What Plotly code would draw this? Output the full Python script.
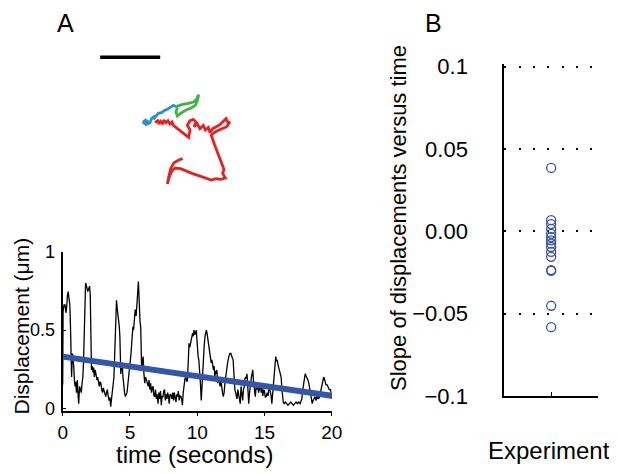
import plotly.graph_objects as go

# --- panel A (bottom): displacement of the particle over time ---
time_s = [0.00, 0.03, 0.10, 0.17, 0.24, 0.29, 0.35, 0.41, 0.47, 0.53, 0.58, 0.62, 0.66, 0.70, 0.73, 0.78,
          0.82, 0.87, 0.92, 0.97, 1.02, 1.06, 1.09, 1.14, 1.19, 1.23, 1.26, 1.32, 1.38, 1.44, 1.50, 1.55,
          1.60, 1.65, 1.70, 1.75, 1.80, 1.86, 1.92, 2.00, 2.05, 2.10, 2.14, 2.20, 2.25, 2.30, 2.35, 2.42,
          2.48, 2.55, 2.60, 2.66, 2.72, 2.78, 2.84, 2.90, 2.96, 3.02, 3.08, 3.14, 3.20, 3.26, 3.32, 3.38,
          3.45, 3.51, 3.57, 3.63, 3.70, 3.76, 3.81, 3.87, 3.93, 3.97, 4.00, 4.05, 4.10, 4.17, 4.21, 4.25,
          4.29, 4.32, 4.37, 4.42, 4.48, 4.54, 4.60, 4.66, 4.72, 4.78, 4.84, 4.90, 4.96, 5.02, 5.08, 5.15,
          5.22, 5.27, 5.32, 5.39, 5.46, 5.51, 5.56, 5.60, 5.63, 5.67, 5.70, 5.75, 5.80, 5.84, 5.87, 5.93,
          5.98, 6.04, 6.10, 6.16, 6.23, 6.30, 6.36, 6.42, 6.48, 6.54, 6.60, 6.66, 6.72, 6.78, 6.84, 6.90,
          6.96, 7.02, 7.09, 7.15, 7.21, 7.27, 7.33, 7.39, 7.45, 7.51, 7.57, 7.63, 7.69, 7.75, 7.80, 7.86,
          7.92, 7.98, 8.06, 8.12, 8.18, 8.24, 8.30, 8.36, 8.42, 8.48, 8.54, 8.60, 8.66, 8.72, 8.80, 8.86,
          8.90, 8.96, 9.03, 9.09, 9.15, 9.22, 9.28, 9.33, 9.39, 9.45, 9.51, 9.57, 9.66, 9.71, 9.76, 9.82,
          9.88, 9.93, 9.97, 10.00, 10.07, 10.12, 10.18, 10.24, 10.30, 10.35, 10.40, 10.46, 10.52, 10.58,
          10.63, 10.68, 10.73, 10.80, 10.87, 10.92, 10.97, 11.04, 11.09, 11.14, 11.21, 11.26, 11.31, 11.36,
          11.41, 11.46, 11.52, 11.58, 11.64, 11.70, 11.76, 11.82, 11.88, 11.94, 12.00, 12.06, 12.13, 12.20,
          12.26, 12.35, 12.43, 12.50, 12.56, 12.62, 12.67, 12.74, 12.80, 12.86, 12.90, 12.96, 13.02, 13.08,
          13.14, 13.20, 13.26, 13.32, 13.38, 13.44, 13.50, 13.55, 13.60, 13.65, 13.70, 13.76, 13.83, 13.88,
          13.93, 13.98, 14.03, 14.08, 14.13, 14.18, 14.24, 14.32, 14.38, 14.44, 14.50, 14.56, 14.62, 14.70,
          14.76, 14.82, 14.88, 14.94, 15.00, 15.06, 15.13, 15.20, 15.27, 15.35, 15.42, 15.48, 15.55, 15.62,
          15.70, 15.77, 15.84, 15.90, 15.95, 16.00, 16.05, 16.12, 16.18, 16.24, 16.30, 16.34, 16.40, 16.46,
          16.55, 16.65, 16.75, 16.85, 16.95, 17.05, 17.15, 17.25, 17.35, 17.45, 17.55, 17.65, 17.71, 17.78,
          17.85, 17.92, 17.98, 18.03, 18.08, 18.14, 18.19, 18.24, 18.30, 18.38, 18.45, 18.50, 18.55, 18.62,
          18.70, 18.76, 18.84, 18.92, 19.00, 19.08, 19.14, 19.20, 19.28, 19.34, 19.40, 19.45, 19.52, 19.58,
          19.66, 19.74, 19.82, 19.92, 20.00]
displacement_um = [0.15, 0.62, 0.66, 0.66, 0.61, 0.64, 0.72, 0.745, 0.70, 0.66, 0.52, 0.33, 0.20, 0.30, 0.35, 0.30,
                   0.27, 0.18, 0.14, 0.17, 0.10, 0.15, 0.18, 0.09, 0.03, 0.10, 0.14, 0.12, 0.10, 0.16, 0.20, 0.30,
                   0.55, 0.72, 0.80, 0.79, 0.77, 0.745, 0.76, 0.78, 0.72, 0.45, 0.245, 0.27, 0.23, 0.26, 0.20, 0.245,
                   0.21, 0.18, 0.20, 0.16, 0.14, 0.17, 0.16, 0.12, 0.10, 0.13, 0.11, 0.08, 0.075, 0.10, 0.12, 0.08,
                   0.05, 0.07, 0.01, 0.06, 0.10, 0.16, 0.20, 0.35, 0.50, 0.63, 0.69, 0.64, 0.60, 0.585, 0.52, 0.46,
                   0.30, 0.22, 0.26, 0.29, 0.20, 0.14, 0.10, 0.075, 0.09, 0.10, 0.15, 0.20, 0.24, 0.27, 0.35, 0.44,
                   0.52, 0.50, 0.56, 0.63, 0.59, 0.64, 0.71, 0.77, 0.81, 0.72, 0.60, 0.55, 0.52, 0.40, 0.245, 0.30,
                   0.33, 0.22, 0.16, 0.20, 0.18, 0.15, 0.14, 0.18, 0.12, 0.16, 0.10, 0.13, 0.14, 0.08, 0.075, 0.12,
                   0.06, 0.09, 0.03, 0.10, 0.06, 0.11, 0.02, 0.08, 0.07, 0.11, 0.12, 0.05, 0.09, 0.06, 0.10, 0.08,
                   0.03, 0.09, 0.085, 0.06, 0.10, 0.05, 0.10, 0.07, 0.04, 0.09, 0.075, 0.11, 0.05, 0.08, 0.075, 0.05,
                   0.02, 0.10, 0.16, 0.19, 0.20, 0.17, 0.18, 0.30, 0.415, 0.39, 0.42, 0.44, 0.48, 0.46, 0.50, 0.47,
                   0.48, 0.50, 0.45, 0.37, 0.33, 0.31, 0.25, 0.16, 0.05, 0.15, 0.245, 0.33, 0.40, 0.46,
                   0.49, 0.50, 0.48, 0.44, 0.37, 0.36, 0.33, 0.29, 0.31, 0.27, 0.245, 0.27, 0.20, 0.24,
                   0.22, 0.245, 0.16, 0.20, 0.17, 0.14, 0.18, 0.12, 0.10, 0.075, 0.10, 0.16, 0.22, 0.25,
                   0.29, 0.33, 0.35, 0.35, 0.34, 0.32, 0.31, 0.20, 0.12, 0.10, 0.075, 0.06, 0.12, 0.09,
                   0.06, 0.03, 0.14, 0.09, 0.05, 0.12, 0.14, 0.19, 0.20, 0.19, 0.22, 0.14, 0.03, 0.09,
                   0.14, 0.17, 0.20, 0.22, 0.245, 0.18, 0.12, 0.075, 0.14, 0.12, 0.16, 0.10, 0.12, 0.16,
                   0.10, 0.13, 0.08, 0.12, 0.11, 0.07, 0.075, 0.10, 0.08, 0.14, 0.11, 0.09, 0.03, 0.10,
                   0.20, 0.26, 0.33, 0.30, 0.31, 0.28, 0.26, 0.24, 0.22, 0.20, 0.12, 0.075, 0.04, 0.03,
                   0.04, 0.03, 0.02, 0.03, 0.04, 0.03, 0.02, 0.03, 0.04, 0.03, 0.04, 0.03, 0.04, 0.06,
                   0.12, 0.16, 0.20, 0.22, 0.21, 0.20, 0.19, 0.18, 0.16, 0.12, 0.10, 0.05, 0.03, 0.05,
                   0.06, 0.075, 0.05, 0.08, 0.06, 0.07, 0.09, 0.12, 0.15, 0.17, 0.20, 0.19, 0.17, 0.15,
                   0.15, 0.13, 0.12, 0.12, 0.06]

fit_time = [0, 20]
fit_disp = [0.33, 0.08]

# --- panel A (top): trajectory, in micrometres ---
blue_x = [0.889, 0.944, 0.878, 0.972, 0.917, 1.0, 1.028, 1.083, 1.056, 1.139, 1.194, 1.233, 1.289, 1.344, 1.389, 1.433]
blue_y = [1.306, 1.344, 1.278, 1.322, 1.25, 1.289, 1.361, 1.4, 1.344, 1.444, 1.456, 1.489, 1.511, 1.556, 1.578, 1.556]
green_x = [1.433, 1.528, 1.639, 1.722, 1.778, 1.811, 1.789, 1.756, 1.689, 1.6, 1.511, 1.456, 1.433, 1.456]
green_y = [1.556, 1.589, 1.611, 1.633, 1.678, 1.756, 1.656, 1.578, 1.533, 1.5, 1.444, 1.4, 1.467, 1.544]
red_x = [1.083, 1.128, 1.156, 1.178, 1.211, 1.233, 1.267, 1.3, 1.333, 1.367, 1.389, 1.456, 1.522, 1.589, 1.644,
         1.667, 1.622, 1.667, 1.722, 1.767, 1.733, 1.789, 1.833, 1.889, 1.922, 1.972, 2.0, 2.044, 2.1, 2.167,
         2.222, 2.267, 2.3, 2.333, 2.278, 2.2, 2.122, 2.056, 2.022, 2.078, 2.144, 2.2, 2.233, 2.211, 2.256,
         2.178, 2.1, 2.022, 1.944, 1.878, 1.8, 1.7, 1.611, 1.511, 1.422, 1.367, 1.322, 1.289, 1.311, 1.344,
         1.4, 1.478, 1.544]
red_y = [1.289, 1.322, 1.267, 1.311, 1.278, 1.333, 1.289, 1.322, 1.267, 1.3, 1.244, 1.189, 1.133, 1.078, 1.044,
         1.167, 1.25, 1.322, 1.344, 1.3, 1.222, 1.267, 1.189, 1.244, 1.167, 1.211, 1.122, 1.189, 1.222, 1.256,
         1.311, 1.356, 1.289, 1.3, 1.222, 1.189, 1.156, 1.111, 1.078, 0.917, 0.75, 0.6, 0.511, 0.444, 0.367,
         0.344, 0.356, 0.333, 0.356, 0.378, 0.411, 0.444, 0.478, 0.522, 0.533, 0.489, 0.389, 0.267, 0.378, 0.522,
         0.622, 0.667, 0.689]
scalebar_x = [0.17, 1.17]
scalebar_y = [2.38, 2.38]

# --- panel B: fitted slopes, one per experiment ---
slopes = [0.0385, 0.0068, 0.0044, 0.0015, -0.0015, -0.0035, -0.0055, -0.0075, -0.0095,
          -0.0125, -0.0155, -0.0235, -0.0240, -0.0452, -0.0582]
experiment_x = [1] * len(slopes)

# page has an 8px body margin, so lay out in window pixels and shift
OFF = 8
W, H = 617 - OFF, 474 - OFF
FONT = "Liberation Sans, Arial, sans-serif"


def fx(px):
    return (px - OFF) / W


def fy(py):
    return 1 - (py - OFF) / H


fig = go.Figure()
fig.add_trace(go.Scatter(x=time_s, y=displacement_um, mode="lines",
                         line=dict(color="black", width=1.3), xaxis="x", yaxis="y"))
fig.add_trace(go.Scatter(x=fit_time, y=fit_disp, mode="lines",
                         line=dict(color="#3456a8", width=6), xaxis="x", yaxis="y"))

for xs, ys, col in [(blue_x, blue_y, "#2b8ed6"), (green_x, green_y, "#3fb23f"), (red_x, red_y, "#e52222")]:
    fig.add_trace(go.Scatter(x=xs, y=ys, mode="lines", line=dict(color=col, width=2.8),
                             xaxis="x2", yaxis="y2"))
fig.add_trace(go.Scatter(x=scalebar_x, y=scalebar_y, mode="lines",
                         line=dict(color="black", width=3.5), xaxis="x2", yaxis="y2"))

fig.add_trace(go.Scatter(x=experiment_x, y=slopes, mode="markers",
                         marker=dict(symbol="circle-open", size=9, color="#3a50a8", line=dict(width=1.3)),
                         xaxis="x3", yaxis="y3"))

axis_common = dict(showline=True, linecolor="black", linewidth=2, zeroline=False, automargin=False,
                   tickcolor="black", tickfont=dict(family=FONT, color="black"))

# slope axis runs a hair past 0.1 so the top dotted grid line is still drawn
b_top = 0.1015
b_px_per_unit = (396 - 66.7) / 0.2

fig.update_layout(
    template="none",
    width=W, height=H,
    margin=dict(l=0, r=0, t=0, b=0, pad=0, autoexpand=False),
    paper_bgcolor="white", plot_bgcolor="white",
    showlegend=False,
    font=dict(family=FONT, color="black"),
    xaxis=dict(axis_common, domain=[fx(62.7), fx(331.7)], range=[0, 20], tickvals=[0, 5, 10, 15, 20],
               ticks="outside", ticklen=3, showgrid=False, anchor="y",
               tickfont=dict(family=FONT, size=19, color="black")),
    yaxis=dict(axis_common, domain=[fy(411), fy(251.7)], range=[-0.017, 1.0],
               tickvals=[0, 0.5, 1], ticktext=["0", "0.5", "1"], ticks="inside", ticklen=3,
               ticklabelstandoff=2,
               showgrid=False, anchor="x", tickfont=dict(family=FONT, size=18, color="black")),
    xaxis2=dict(domain=[fx(90), fx(250)], range=[0, 2.667], visible=False, anchor="y2"),
    yaxis2=dict(domain=[fy(200), fy(40)], range=[0, 2.667], visible=False, anchor="x2"),
    xaxis3=dict(axis_common, domain=[fx(504.3), fx(598)], range=[0, 2], tickvals=[1], ticktext=[""],
                ticks="inside", ticklen=4, showgrid=False, anchor="y3"),
    yaxis3=dict(axis_common, domain=[fy(396), fy(66.7 - (b_top - 0.1) * b_px_per_unit)],
                range=[-0.1, b_top],
                tickvals=[-0.1, -0.05, 0, 0.05, 0.1],
                ticktext=["\u22120.1", "\u22120.05", "0.00", "0.05", "0.1"],
                ticks="", ticklabelstandoff=30, showgrid=True, gridcolor="black", gridwidth=2,
                griddash="2px,12.3px", anchor="x3",
                tickfont=dict(family=FONT, size=22, color="black")),
)

annotations = [
    dict(text="A", x=fx(65), y=1, yanchor="top", font=dict(size=25)),
    dict(text="B", x=fx(433), y=1, yanchor="top", font=dict(size=25)),
    dict(text="Displacement (\u03bcm)", x=0, xanchor="left", y=fy(326), textangle=-90, font=dict(size=21)),
    dict(text="time (seconds)", x=fx(194), y=fy(454), font=dict(size=24)),
    dict(text="Slope of displacements versus time", x=fx(398), y=fy(218), textangle=-90,
         font=dict(size=22)),
    dict(text="Experiment", x=fx(549), y=fy(450), font=dict(size=24)),
]
for a in annotations:
    a.setdefault("xanchor", "center")
    a.setdefault("yanchor", "middle")
    a.update(xref="paper", yref="paper", showarrow=False, borderpad=0)
    a["font"].update(family=FONT, color="black")
fig.update_layout(annotations=annotations)

fig.write_html("out.html")
